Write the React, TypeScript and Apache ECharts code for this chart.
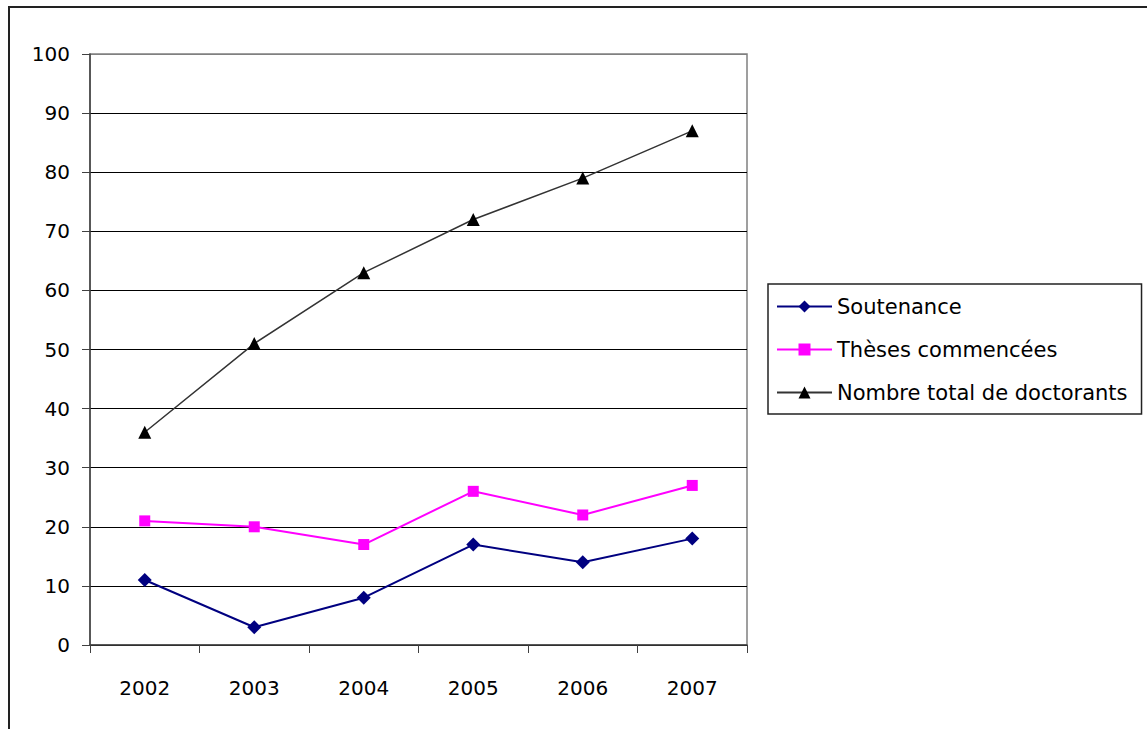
import React, { useEffect, useRef } from "react";
import * as echarts from "echarts";

const years = ["2002", "2003", "2004", "2005", "2006", "2007"];
const soutenance = [11, 3, 8, 17, 14, 18];
const theses = [21, 20, 17, 26, 22, 27];
const total = [36, 51, 63, 72, 79, 87];

const FONT = "DejaVu Sans";

export default function App() {
  const ref = useRef<HTMLDivElement>(null);
  useEffect(() => {
    if (!ref.current) return;
    const chart = echarts.init(ref.current, null, { renderer: "svg" });
    const splitColors = Array.from({ length: 11 }, (_, i) => (i === 10 ? "#808080" : "#000000"));
    chart.setOption({
      animation: false,
      backgroundColor: "#ffffff",
      textStyle: { fontFamily: FONT },
      graphic: [
        {
          type: "rect",
          shape: { x: 9, y: 7, width: 1300, height: 900 },
          style: { fill: "none", stroke: "#222", lineWidth: 2 },
          silent: true,
          z: -1,
        },
      ],
      grid: {
        left: 90,
        right: 400,
        top: 54,
        bottom: 84,
        show: true,
        borderColor: "#808080",
        borderWidth: 1.5,
        containLabel: false,
      },
      legend: {
        orient: "vertical",
        left: 768,
        top: 284,
        padding: [12, 14, 11, 8],
        itemGap: 22,
        itemWidth: 55,
        itemHeight: 15,
        borderColor: "#222",
        borderWidth: 1.5,
        textStyle: { fontFamily: FONT, fontSize: 21, color: "#000" },
        data: ["Soutenance", "Thèses commencées", "Nombre total de doctorants"],
      },
      xAxis: {
        type: "category",
        data: years,
        boundaryGap: true,
        axisLine: { lineStyle: { color: "#404040", width: 1.5 } },
        axisTick: { show: true, length: 8, lineStyle: { color: "#404040" } },
        axisLabel: { fontFamily: FONT, fontSize: 20, color: "#000", margin: 33 },
      },
      yAxis: {
        type: "value",
        min: 0,
        max: 100,
        interval: 10,
        axisLine: { show: true, lineStyle: { color: "#404040", width: 1.5 } },
        axisTick: { show: true, length: 8, lineStyle: { color: "#404040" } },
        axisLabel: { fontFamily: FONT, fontSize: 20, color: "#000", margin: 20 },
        splitLine: { show: true, lineStyle: { color: splitColors, width: 1 } },
      },
      series: [
        {
          name: "Soutenance",
          type: "line",
          data: soutenance,
          symbol: "diamond",
          symbolSize: 14,
          color: "#000080",
          lineStyle: { color: "#000080", width: 2 },
          itemStyle: { color: "#000080" },
        },
        {
          name: "Thèses commencées",
          type: "line",
          data: theses,
          symbol: "rect",
          symbolSize: 11,
          color: "#ff00ff",
          lineStyle: { color: "#ff00ff", width: 2 },
          itemStyle: { color: "#ff00ff" },
        },
        {
          name: "Nombre total de doctorants",
          type: "line",
          data: total,
          symbol: "triangle",
          symbolSize: 13,
          color: "#000000",
          lineStyle: { color: "#333333", width: 1.5 },
          itemStyle: { color: "#000000" },
        },
      ],
    });
    return () => chart.dispose();
  }, []);
  return (
    <div
      ref={ref}
      style={{ position: "absolute", left: 0, top: 0, width: 1147, height: 729 }}
    />
  );
}
